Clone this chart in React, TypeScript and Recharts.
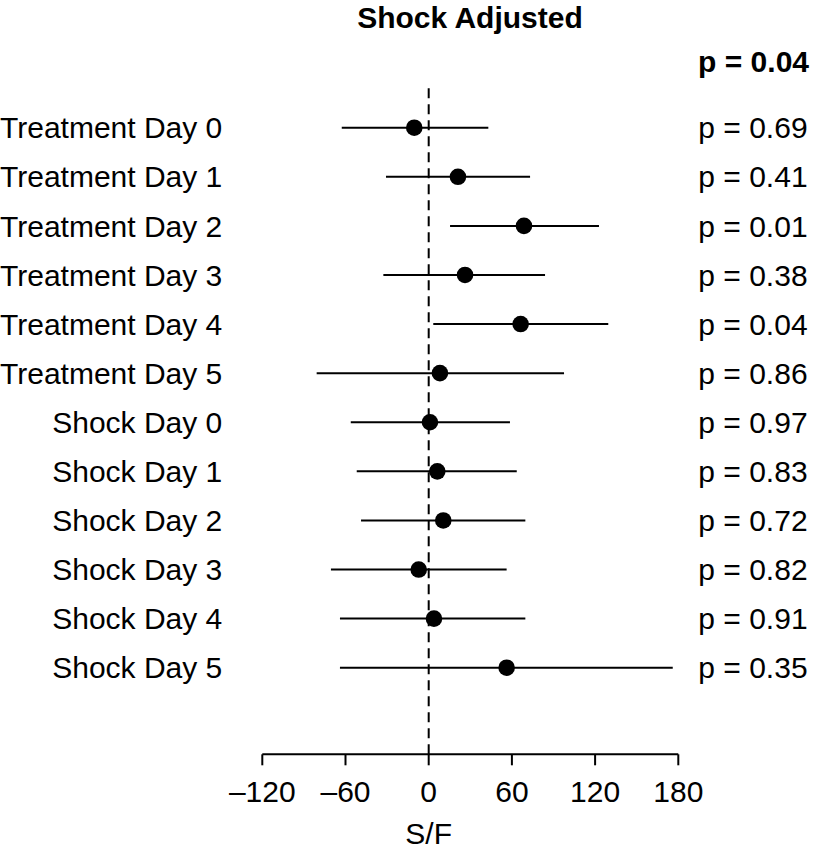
import React from 'react';
import { ScatterChart, Scatter, XAxis, YAxis, ErrorBar, ReferenceLine } from 'recharts';

const rowLabels = [
  'Treatment Day 0',
  'Treatment Day 1',
  'Treatment Day 2',
  'Treatment Day 3',
  'Treatment Day 4',
  'Treatment Day 5',
  'Shock Day 0',
  'Shock Day 1',
  'Shock Day 2',
  'Shock Day 3',
  'Shock Day 4',
  'Shock Day 5',
];
const estimates = [-10.4, 21.1, 68.7, 26.2, 66.3, 8.1, 0.9, 6.2, 10.5, -7.2, 3.8, 56.2];
const lowerCI = [-62.7, -30.8, 15.4, -32.7, 3.3, -80.8, -56.2, -51.9, -48.8, -70.5, -64.0, -64.0];
const upperCI = [43.0, 73.1, 122.8, 83.9, 129.5, 97.6, 58.6, 63.5, 69.7, 56.2, 69.7, 176.0];
const pValues = [
  'p = 0.69',
  'p = 0.41',
  'p = 0.01',
  'p = 0.38',
  'p = 0.04',
  'p = 0.86',
  'p = 0.97',
  'p = 0.83',
  'p = 0.72',
  'p = 0.82',
  'p = 0.91',
  'p = 0.35',
];
const xTicks = [-120, -60, 0, 60, 120, 180];
const chartTitle = 'Shock Adjusted';
const overallP = 'p = 0.04';
const xLabel = 'S/F';

const FONT = '"Liberation Sans", Arial, Helvetica, sans-serif';

const rowIndex = rowLabels.map((_, i) => i);
const data = rowLabels.map((label, i) => ({
  row: i,
  label,
  est: estimates[i],
  err: [estimates[i] - lowerCI[i], upperCI[i] - estimates[i]],
}));

const fmtX = (v: number) => (v < 0 ? '\u2013' + Math.abs(v) : String(v));

const Dot = (props: any) => <circle cx={props.cx} cy={props.cy} r={8.3} fill="#000" />;

export default function App() {
  const tickStyle = { fill: '#000', fontSize: 30, fontFamily: FONT };
  return (
    <div style={{ position: 'absolute', left: 0, top: 0, width: 813, height: 852, background: '#fff' }}>
      <ScatterChart width={813} height={852} margin={{ top: 85, right: 0, bottom: 0, left: 0 }}>
        <XAxis
          type="number"
          dataKey="est"
          domain={[-120, 180]}
          ticks={xTicks}
          interval={0}
          allowDataOverflow
          tickFormatter={fmtX}
          tickSize={11}
          tickMargin={15}
          height={97.7}
          axisLine={{ stroke: '#000', strokeWidth: 2 }}
          tickLine={{ stroke: '#000', strokeWidth: 2 }}
          tick={tickStyle}
        />
        <YAxis
          yAxisId="left"
          type="number"
          dataKey="row"
          domain={[-0.87, 12.764]}
          reversed
          allowDataOverflow
          ticks={rowIndex}
          interval={0}
          tickFormatter={(v: number) => rowLabels[Math.round(v)] ?? ''}
          axisLine={false}
          tickLine={false}
          tickSize={0}
          tickMargin={40}
          width={262.3}
          tick={tickStyle}
        />
        <YAxis
          yAxisId="right"
          orientation="right"
          type="number"
          dataKey="row"
          domain={[-0.87, 12.764]}
          reversed
          allowDataOverflow
          ticks={rowIndex}
          interval={0}
          tickFormatter={(v: number) => pValues[Math.round(v)] ?? ''}
          axisLine={false}
          tickLine={false}
          tickSize={0}
          tickMargin={20}
          width={134.7}
          tick={tickStyle}
        />
        <ReferenceLine
          yAxisId="left"
          x={0}
          stroke="#000"
          strokeWidth={2}
          strokeDasharray="10 6"
          label={{ value: xLabel, position: 'bottom', offset: 68, fill: '#000', fontSize: 30, fontFamily: FONT }}
        />
        <Scatter yAxisId="left" data={data} isAnimationActive={false} shape={Dot} fill="#000">
          <ErrorBar dataKey="err" direction="x" width={0} stroke="#000" strokeWidth={2} isAnimationActive={false} />
        </Scatter>
      </ScatterChart>
      <svg style={{ position: 'absolute', left: 0, top: 0 }} width={813} height={90}>
        <text x={470} y={28} textAnchor="middle" fontFamily={FONT} fontSize={30} fontWeight="bold" fill="#000">
          {chartTitle}
        </text>
        <text x={809} y={72} textAnchor="end" fontFamily={FONT} fontSize={30} fontWeight="bold" fill="#000">
          {overallP}
        </text>
      </svg>
    </div>
  );
}
